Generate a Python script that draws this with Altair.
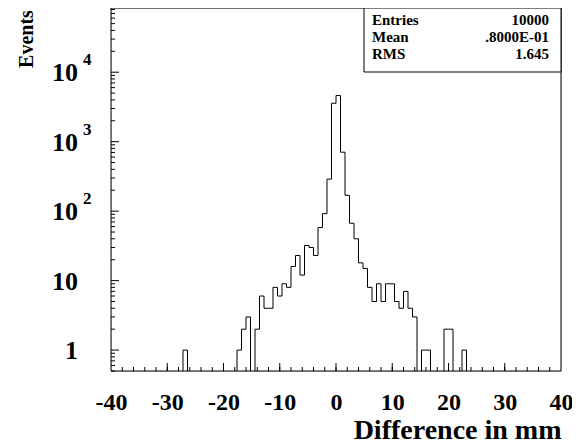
import altair as alt
import numpy as np
import pandas as pd

# ---- data ----
x_range = [-40, 40]
n_bins = 100
counts = [0] * 16 + [1] + [0] * 11 + [
    1, 2, 3, 0, 2, 6, 4, 4, 8, 6, 9, 8, 16, 23, 12, 32, 30, 23, 58, 92,
    289, 3573, 4614, 706, 169, 67, 40, 18, 15, 8, 5, 9, 5, 9, 9, 5, 4, 7, 4, 3,
    0, 1, 1, 0, 0, 0, 2, 2, 0, 0, 1,
]
counts = counts + [0] * (n_bins - len(counts))

x_tick_labels = [-40, -30, -20, -10, 0, 10, 20, 30, 40]
y_decades = [1, 10, 100, 1000, 10000]
y_base_text = ["1", "10", "10", "10", "10"]
y_exp_text = ["", "", "2", "3", "4"]
stats_names = ["Entries", "Mean", "RMS"]
stats_values = ["10000", ".8000E-01", "1.645"]

# ---- layout ----
W, H = 450, 363
FONT = "Liberation Serif"
y_dom = [0.5, 84000]

edges = np.linspace(x_range[0], x_range[1], n_bins + 1)
hist_df = pd.DataFrame({
    "x": list(edges[:-1]) + [edges[-1]],
    "y": [c if c > 0 else 1e-3 for c in counts] + [counts[-1] if counts[-1] > 0 else 1e-3],
})

xscale = alt.Scale(domain=x_range, nice=False, zero=False)
yscale = alt.Scale(type="log", domain=y_dom, nice=False)
xaxis = alt.Axis(
    values=x_tick_labels, ticks=False, domain=False, grid=False,
    labelExpr="'' + datum.value",
    labelFont=FONT, labelFontWeight="bold", labelFontSize=24, labelPadding=19,
    labelColor="black", title="Difference in mm", titleFont=FONT,
    titleFontWeight="bold", titleFontSize=28, titleColor="black",
    titleAnchor="end", titlePadding=2, labelFlush=False,
)

hist = alt.Chart(hist_df).mark_line(
    interpolate="step-after", color="black", strokeWidth=1, clip=True
).encode(
    x=alt.X("x:Q", scale=xscale, axis=xaxis),
    y=alt.Y("y:Q", scale=yscale, axis=None),
)

frame = alt.Chart(pd.DataFrame({"a": [0]})).mark_rect(
    filled=False, stroke="black", strokeWidth=1
).encode(x=alt.value(0), x2=alt.value(W), y=alt.value(0), y2=alt.value(H))

x_minor = pd.DataFrame({"x": list(range(-38, 40, 2))})
x_major = pd.DataFrame({"x": list(range(-30, 40, 10))})
xminor_l = alt.Chart(x_minor).mark_rule(color="black", strokeWidth=1).encode(
    x=alt.X("x:Q", scale=xscale, axis=xaxis), y=alt.value(H), y2=alt.value(H - 4))
xmajor_l = alt.Chart(x_major).mark_rule(color="black", strokeWidth=1).encode(
    x=alt.X("x:Q", scale=xscale, axis=xaxis), y=alt.value(H), y2=alt.value(H - 8))

y_minor_vals = [m * 10 ** k for k in range(-1, 5) for m in range(2, 10)
                if y_dom[0] <= m * 10 ** k <= y_dom[1]]
yminor_l = alt.Chart(pd.DataFrame({"y": y_minor_vals})).mark_rule(color="black", strokeWidth=1).encode(
    y=alt.Y("y:Q", scale=yscale, axis=None), x=alt.value(0), x2=alt.value(4))
ymajor_l = alt.Chart(pd.DataFrame({"y": y_decades})).mark_rule(color="black", strokeWidth=1).encode(
    y=alt.Y("y:Q", scale=yscale, axis=None), x=alt.value(0), x2=alt.value(8))

ylab_df = pd.DataFrame({"y": y_decades, "base": y_base_text, "exp": y_exp_text})
ybase_l = alt.Chart(ylab_df).mark_text(
    font=FONT, fontWeight="bold", fontSize=26, align="right", baseline="middle",
    color="black", dy=1
).encode(y=alt.Y("y:Q", scale=yscale, axis=None), x=alt.value(-33), text="base:N")
yexp_l = alt.Chart(ylab_df).mark_text(
    font=FONT, fontWeight="bold", fontSize=17, align="left", baseline="middle",
    color="black", dy=-12
).encode(y=alt.Y("y:Q", scale=yscale, axis=None), x=alt.value(-28), text="exp:N")

ytitle_l = alt.Chart(pd.DataFrame({"t": ["Events"]})).mark_text(
    font=FONT, fontWeight="bold", fontSize=20, angle=270, align="center",
    baseline="middle", color="black"
).encode(x=alt.value(-84), y=alt.value(31), text="t:N")

box = alt.Chart(pd.DataFrame({"a": [0]})).mark_rect(
    fill="white", stroke="black", strokeWidth=1
).encode(x=alt.value(253), x2=alt.value(450), y=alt.value(0), y2=alt.value(64))

stat_layers = []
row_y = [17, 34, 51]
for name, val, yy in zip(stats_names, stats_values, row_y):
    stat_layers.append(alt.Chart(pd.DataFrame({"t": [name]})).mark_text(
        font=FONT, fontWeight="bold", fontSize=15, align="left", baseline="alphabetic",
        color="black").encode(x=alt.value(261), y=alt.value(yy), text="t:N"))
    stat_layers.append(alt.Chart(pd.DataFrame({"t": [val]})).mark_text(
        font=FONT, fontWeight="bold", fontSize=15, align="right", baseline="alphabetic",
        color="black").encode(x=alt.value(438), y=alt.value(yy), text="t:N"))

chart = alt.layer(
    hist, frame, xminor_l, xmajor_l, yminor_l, ymajor_l, ybase_l, yexp_l, ytitle_l, box,
    *stat_layers
).properties(
    width=W, height=H,
    autosize=alt.AutoSizeParams(type="none"),
    padding={"left": 103, "top": 0, "right": 11, "bottom": 75},
).configure_view(stroke="black", strokeWidth=1).configure(background="white")

chart.save("out.html", embed_options={"renderer": "svg", "actions": False})
